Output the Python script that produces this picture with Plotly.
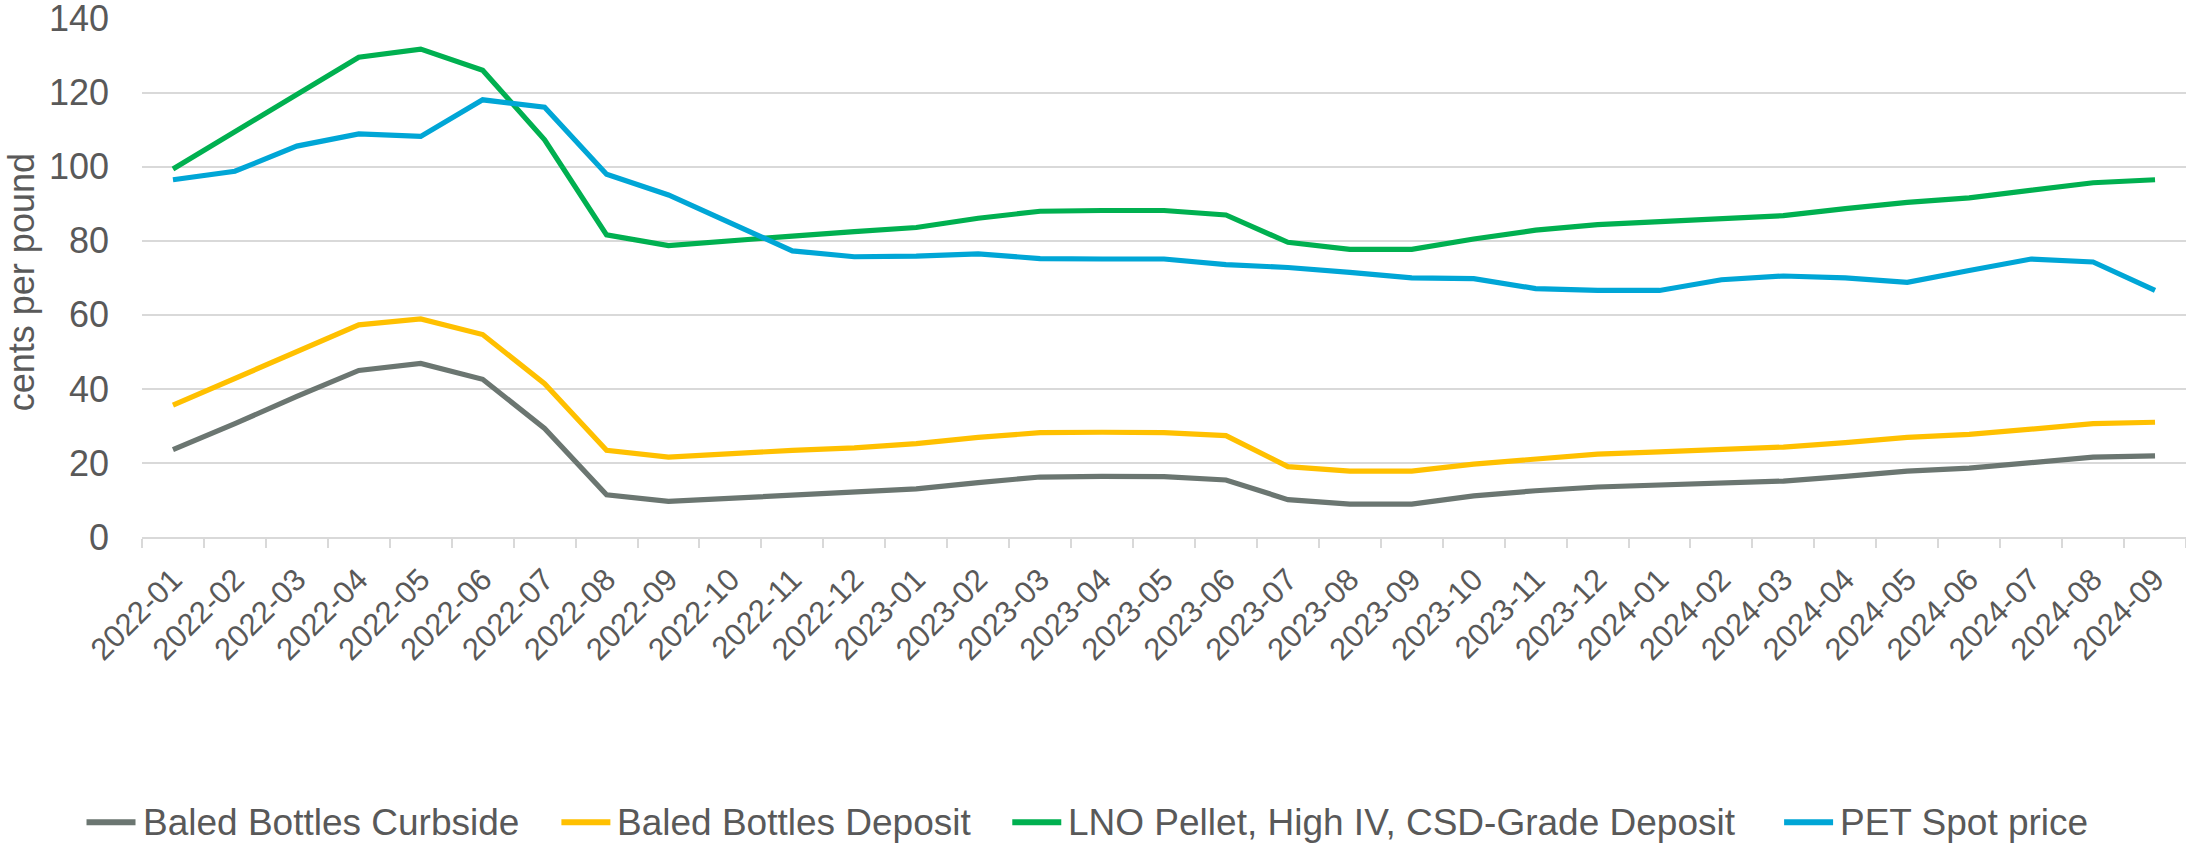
import plotly.graph_objects as go

months = [f"{y}-{m:02d}" for y, mm in ((2022, 12), (2023, 12), (2024, 9)) for m in range(1, mm + 1)]

curbside = [23.6, 30.6, 38.0, 45.0, 46.9, 42.6, 29.3, 11.4, 9.6, 10.4, 11.3, 12.0, 13.0, 14.7, 16.2, 16.4,
            16.3, 15.4, 10.1, 8.9, 8.9, 11.1, 12.5, 13.5, 14.0, 14.6, 15.1, 16.4, 17.8, 18.6, 20.2, 21.6, 21.9]
deposit = [35.6, 42.8, 50.0, 57.3, 58.9, 54.7, 41.4, 23.4, 21.6, 22.6, 23.4, 24.1, 25.2, 26.9, 28.2, 28.3,
           28.2, 27.4, 19.0, 17.8, 17.8, 19.7, 21.2, 22.4, 23.0, 23.8, 24.3, 25.5, 26.9, 27.7, 29.2, 30.6, 31.0]
lno_pellet = [99.4, 109.5, 119.6, 129.6, 131.8, 126.1, 107.3, 81.6, 78.7, 80.1, 81.3, 82.5, 83.6, 86.1, 88.0, 88.2,
              88.2, 87.0, 79.6, 77.7, 77.7, 80.5, 82.9, 84.4, 85.2, 86.3, 86.8, 88.7, 90.4, 91.6, 93.8, 95.7, 96.5]
pet_spot = [96.5, 98.8, 105.6, 108.9, 108.2, 118.1, 116.1, 98.0, 92.4, 84.7, 77.3, 75.7, 75.9, 76.5, 75.2, 75.1,
            75.1, 73.6, 72.8, 71.5, 70.0, 69.8, 67.1, 66.6, 66.6, 69.5, 70.5, 70.0, 68.8, 72.0, 75.1, 74.3, 66.6]

series_names = ["Baled Bottles Curbside", "Baled Bottles Deposit",
                "LNO Pellet, High IV, CSD-Grade Deposit", "PET Spot price"]
series_values = [curbside, deposit, lno_pellet, pet_spot]
series_colors = ["#6B7671", "#FFC000", "#00B050", "#00A6D6"]

y_ticks = [0, 20, 40, 60, 80, 100, 120, 140]

FONT = "Liberation Sans, Arial, sans-serif"
TXT = "#595959"
GRID = "#D9D9D9"

W, H = 2186, 843
L, R, T, B = 141.5, 0, 18, 305.5
PW, PH = W - L - R, H - T - B

def px_x(px):
    return (px - L) / PW

def px_y(py):
    return (H - B - py) / PH

fig = go.Figure()
for name, vals, color in zip(series_names, series_values, series_colors):
    fig.add_trace(go.Scatter(x=months, y=vals, name=name, mode="lines",
                             line=dict(color=color, width=5.2), showlegend=False))

fig.update_layout(
    width=W, height=H,
    margin=dict(l=L, r=R, t=T, b=B, autoexpand=False),
    paper_bgcolor="white", plot_bgcolor="white",
    font=dict(family=FONT, color=TXT, size=36),
    showlegend=False,
)
fig.update_xaxes(type="category", range=[-0.5, len(months) - 0.5], tickangle=-45,
                 tickfont=dict(size=31, color=TXT, family=FONT), automargin=False,
                 showgrid=False, showline=True, linecolor=GRID, linewidth=1.7,
                 ticks="outside", ticklen=9, tickcolor=GRID, tickwidth=1.7,
                 ticklabelstandoff=10,
                 tickson="boundaries", zeroline=False)
fig.update_yaxes(range=[0, 140.2], tickvals=y_ticks, showgrid=True, gridcolor=GRID, gridwidth=1.7,
                 zeroline=False, showline=False, ticks="", ticklabelstandoff=32,
                 ticklabeloverflow="allow", automargin=False,
                 tickfont=dict(size=36, color=TXT, family=FONT))
fig.add_annotation(text="cents per pound", xref="paper", yref="paper",
                   x=px_x(21), y=0.49, xanchor="center", yanchor="middle",
                   textangle=-90, showarrow=False, font=dict(size=36, color=TXT, family=FONT))

# custom legend (swatch line + label)
legend_line_x0 = [83, 558, 1009, 1781]
legend_y = 823
for x0, name, color in zip(legend_line_x0, series_names, series_colors):
    fig.add_shape(type="line", xref="paper", yref="paper",
                  x0=px_x(x0 + 3), x1=px_x(x0 + 52), y0=px_y(legend_y), y1=px_y(legend_y),
                  line=dict(color=color, width=6))
    fig.add_annotation(text=name, xref="paper", yref="paper", x=px_x(x0 + 58), y=px_y(legend_y),
                       xanchor="left", yanchor="middle", showarrow=False, borderpad=0,
                       font=dict(size=37, color=TXT, family=FONT))

fig.write_html("out.html", config={"displayModeBar": False},
               post_script="document.body.style.margin='0';document.body.style.overflow='hidden';")
